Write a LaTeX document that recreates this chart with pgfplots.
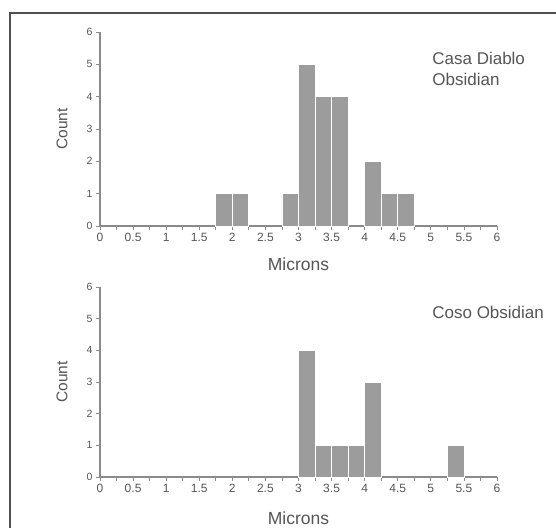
\documentclass[border=0pt]{standalone}
\usepackage{fontspec}
\setmainfont{Liberation Sans}
\usepackage{pgfplots}
\pgfplotsset{compat=1.18}
\definecolor{txt}{HTML}{555555}
\definecolor{axc}{HTML}{8A8A8A}
\definecolor{barc}{HTML}{9C9C9C}
\definecolor{frame}{HTML}{505050}
\pgfplotsset{hist/.style={
  scale only axis, width=397pt, xmin=0, xmax=6, ymin=0, ymax=6, clip=false,
  axis x line=bottom, axis y line=left,
  axis line style={axc, line width=1.2pt, -},
  xtick={0,0.5,...,6}, minor xtick={0.25,0.75,...,5.75}, ytick={0,1,...,6},
  xticklabels={0,0.5,1,1.5,2,2.5,3,3.5,4,4.5,5,5.5,6},
  tick align=outside, major tick length=4pt, minor tick length=4pt,
  tick style={axc, line width=0.8pt},
  /pgf/number format/assume math mode=true,
  xticklabel style={font=\fontsize{12}{14}\selectfont, text=txt},
  yticklabel style={font=\fontsize{10.5}{12}\selectfont, text=txt},
  ylabel style={font=\fontsize{15.5}{18}\selectfont, text=txt},
  xlabel style={font=\fontsize{17.5}{20}\selectfont, text=txt},
  ylabel={Count},
  xlabel={Microns},
}}
\begin{document}
\begin{tikzpicture}[x=1pt,y=1pt]
\useasboundingbox (0,0) rectangle (556,527);
\draw[frame, line width=2pt] (10,-5) -- (10,514) -- (561,514);
\begin{axis}[hist, height=194pt, at={(100pt,301pt)}, anchor=south west,
  ylabel style={at={(axis description cs:-0.0957,0.5)}, anchor=center},
  xlabel style={at={(axis description cs:0.5,-0.196)}, anchor=center}]
\addplot[ybar, bar width=0.25, bar shift=0pt, fill=barc, draw=white, line width=0.8pt]
coordinates {(1.875,1) (2.125,1) (2.875,1) (3.125,5) (3.375,4) (3.625,4) (4.125,2) (4.375,1) (4.625,1)};
\node[anchor=base west, font=\fontsize{17}{20}\selectfont, text=txt] at (axis cs:4.97,5.0) {Casa Diablo};
\node[anchor=base west, font=\fontsize{17}{20}\selectfont, text=txt] at (axis cs:4.97,4.35) {Obsidian};
\end{axis}
\begin{axis}[hist, height=190pt, at={(100pt,50pt)}, anchor=south west,
  ylabel style={at={(axis description cs:-0.0957,0.5)}, anchor=center},
  xlabel style={at={(axis description cs:0.5,-0.216)}, anchor=center}]
\addplot[ybar, bar width=0.25, bar shift=0pt, fill=barc, draw=white, line width=0.8pt]
coordinates {(3.125,4) (3.375,1) (3.625,1) (3.875,1) (4.125,3) (5.375,1)};
\node[anchor=base west, font=\fontsize{17}{20}\selectfont, text=txt] at (axis cs:4.97,5.0) {Coso Obsidian};
\end{axis}
\end{tikzpicture}
\end{document}
